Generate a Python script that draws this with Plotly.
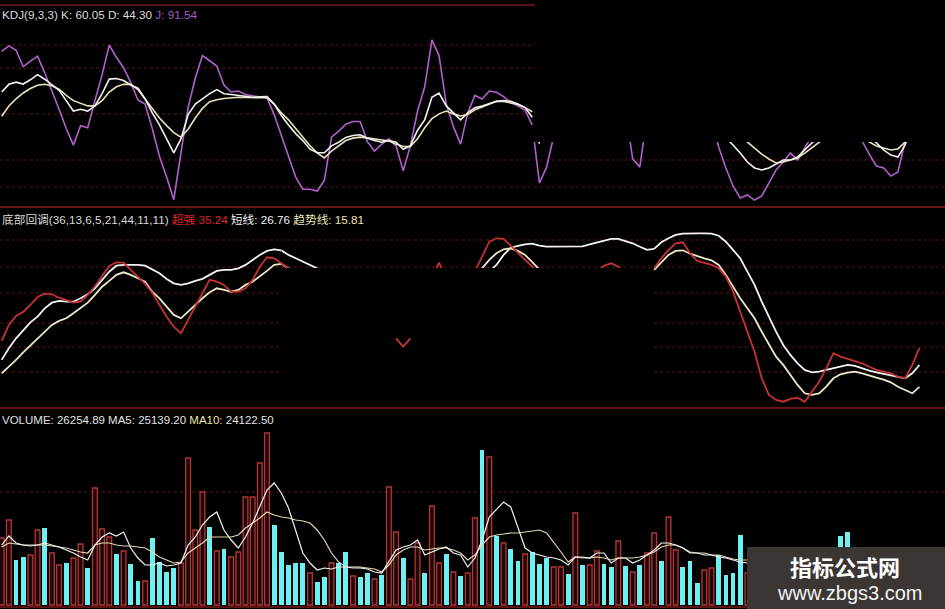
import plotly.graph_objects as go

_ = None
N = 129
IDX = list(range(N))

# ---------------- KDJ(9,3,3) ----------------
KDJ_K = [66.9, 72.3, 73.8, 72.5, 75.5, 79.1, 75.9, 71.8, 68.1, 60.8,
         53.5, 54.7, 53.5, 57.1, 65.7, 76.0, 76.4, 75.0, 71.8, 69.6,
         62.0, 52.2, 43.7, 33.9, 24.1, 33.9, 51.0, 58.4, 62.0, 65.7,
         68.6, 65.7, 65.2, 64.5, 63.7, 63.2, 63.5, 63.7, 58.4, 50.3,
         43.7, 37.6, 32.7, 26.6, 24.1, 24.1, 29.0, 31.5, 34.9, 36.3,
         36.8, 34.4, 32.7, 31.5, 32.7, 31.5, 26.6, 29.0, 40.0, 47.3,
         63.2, 66.2, 57.1, 52.2, 47.3, 52.2, 55.9, 57.1, 58.8, 60.3,
         60.8, 60.3, 58.4, 55.9, 49.1, 30.5, _, _, _, _,
         _, _, _, _, _, _, _, _, _, _,
         _, _, _, _, _, _, _, _, _, _,
         _, 34.5, 29.6, 23.9, 17.6, 13.4, 12.0, 13.4, 16.2, 19.0,
         19.0, 21.1, 26.1, 31.0, 35.9, _, _, _, _, _,
         _, 35.9, 31.0, 26.1, 22.5, 21.1, 29.6, 43.7, 60.05]
KDJ_D = [49.8, 57.1, 62.0, 66.2, 69.4, 71.6, 72.3, 71.3, 68.9, 64.5,
         60.8, 58.8, 57.1, 57.1, 60.8, 66.9, 70.6, 72.3, 72.3, 68.6,
         62.0, 55.4, 48.6, 43.2, 38.3, 35.1, 40.7, 48.6, 55.4, 60.1,
         61.5, 62.3, 62.8, 63.2, 63.0, 62.8, 62.8, 62.8, 58.4, 52.2,
         47.3, 41.2, 35.1, 29.0, 24.1, 20.5, 25.3, 29.0, 32.7, 34.4,
         35.1, 34.6, 33.9, 33.2, 32.4, 30.2, 28.5, 28.5, 33.9, 41.7,
         48.1, 51.5, 53.5, 51.5, 50.0, 51.0, 54.4, 56.4, 58.4, 60.3,
         60.3, 59.3, 58.1, 55.9, 53.0, 41.2, _, _, _, _,
         _, _, _, _, _, _, _, _, _, _,
         _, _, _, _, _, _, _, _, _, _,
         _, _, _, 35.9, 31.7, 27.5, 23.2, 19.7, 16.9, 17.6,
         19.0, 20.4, 23.9, 27.5, 31.0, 35.2, _, _, _, _,
         34.5, 31.7, 28.9, 27.5, 26.1, 26.8, 31.0, 36.6, 44.30]
KDJ_J = [95.5, 99.4, 96.3, 84.8, 88.7, 92.1, 80.4, 68.1, 54.7, 41.2,
         29.5, 43.2, 41.7, 60.8, 79.1, 99.9, 91.4, 84.0, 73.5, 61.3,
         58.4, 41.2, 21.7, 7.0, -8.9, 24.1, 55.9, 76.7, 92.6, 88.9,
         85.2, 71.8, 66.9, 67.6, 65.2, 64.2, 63.2, 62.7, 51.0, 36.3,
         21.7, 7.0, -1.6, -1.6, -2.8, 4.6, 35.1, 39.3, 44.2, 46.1,
         46.1, 31.9, 25.3, 30.2, 33.9, 29.0, 11.4, 29.0, 53.5, 70.6,
         103.6, 92.6, 58.4, 42.5, 30.2, 52.2, 64.5, 62.0, 67.6, 66.7,
         63.7, 59.6, 57.1, 54.0, 43.7, 2.8, 14.0, 36.0, _, _,
         _, _, _, _, _, _, _, 54.0, 20.0, 14.0,
         50.0, _, _, _, _, _, _, _, _, 47.0,
         28.2, 13.4, 0.7, -7.7, -5.6, -9.2, -6.3, 2.8, 12.0, 17.6,
         23.9, 19.0, 27.5, 36.0, _, _, _, _, _, 40.0,
         32.4, 23.2, 14.8, 13.4, 7.7, 10.6, 27.5, 54.0, 91.54]

# ---------------- 底部回调 ----------------
SUPER = [38.8, 46.8, 51.3, 53.3, 56.8, 60.8, 62.4, 62.1, 60.4, 59.3,
         57.9, 58.4, 61.8, 66.1, 70.9, 76.3, 78.1, 77.9, 74.3, 70.9,
         67.3, 62.9, 56.8, 50.9, 45.9, 42.6, 49.3, 55.9, 63.1, 69.3,
         68.4, 66.8, 63.4, 63.4, 65.1, 69.3, 75.9, 80.6, 80.1, 77.6,
         75.1, 70.9, _, _, _, _, _, _, _, _,
         _, _, _, _, _, 40.1, 35.9, 40.1, _, _,
         70.0, 78.0, 70.0, _, _, 70.1, 73.4, 80.9, 88.4, 90.1,
         89.8, 86.4, 82.6, 79.3, 75.9, 71.8, _, _, _, _,
         _, _, _, 73.4, 76.4, 77.6, 75.9, 72.6, _, _,
         70.9, 75.1, 80.1, 84.3, 87.6, 88.1, 82.6, 78.8, 77.8, 76.8,
         75.1, 70.9, 63.4, 53.4, 43.4, 33.4, 20.1, 11.8, 9.3, 8.4,
         9.8, 10.4, 8.4, 13.4, 18.4, 25.1, 32.6, 30.9, 29.8, 28.8,
         27.6, 25.9, 24.3, 23.4, 22.6, 20.9, 20.1, 26.8, 35.24]
SHORT = [29.3, 35.1, 40.1, 44.3, 48.1, 50.9, 55.1, 57.9, 58.8, 58.4,
         58.4, 60.1, 62.1, 65.1, 69.3, 73.4, 76.4, 76.8, 76.8, 76.8,
         76.4, 74.3, 72.6, 69.8, 67.6, 66.8, 67.6, 68.8, 69.8, 71.8,
         73.8, 74.3, 74.3, 75.1, 76.8, 79.3, 81.8, 83.8, 84.6, 84.1,
         81.8, 80.1, 78.4, 76.8, 75.1, 72.6, _, _, _, _,
         _, _, _, _, _, _, _, _, _, _,
         _, _, _, _, _, _, _, 70.1, 73.4, 76.8,
         81.8, 85.4, 86.3, 87.1, 87.4, 86.4, 85.9, 85.9, 85.9, 85.9,
         85.9, 86.1, 87.1, 88.1, 88.8, 89.8, 89.8, 88.8, 87.6, 85.9,
         84.3, 84.8, 88.1, 90.1, 91.8, 92.4, 92.6, 92.6, 92.6, 92.4,
         91.4, 88.4, 84.3, 80.1, 73.4, 66.8, 58.4, 50.9, 43.4, 36.8,
         31.8, 27.6, 24.3, 23.1, 23.4, 24.3, 25.1, 26.1, 26.8, 26.3,
         25.1, 23.9, 23.1, 22.3, 21.4, 20.8, 20.1, 22.6, 26.76]
TREND = [22.6, 25.9, 29.3, 33.1, 36.4, 40.1, 43.4, 46.8, 48.8, 50.1,
         52.6, 55.4, 57.9, 61.8, 65.9, 68.8, 71.8, 73.1, 71.8, 70.1,
         68.4, 63.4, 60.1, 55.9, 51.8, 50.1, 53.4, 57.1, 60.1, 63.1,
         65.1, 64.3, 63.4, 64.3, 66.8, 68.4, 70.9, 73.8, 76.8, 77.3,
         75.1, 71.8, _, _, _, _, _, _, _, _,
         _, _, _, _, _, _, _, _, _, _,
         _, _, _, _, _, _, 70.9, 75.1, 79.3, 82.6,
         84.6, 85.1, 83.8, 81.8, 78.4, 74.8, 70.9, _, _, _,
         _, _, _, _, _, _, _, _, _, _,
         70.9, 74.3, 78.1, 81.8, 83.8, 84.1, 82.4, 81.1, 80.1, 79.1,
         76.8, 71.8, 65.9, 60.1, 55.1, 50.1, 43.4, 36.8, 30.9, 26.8,
         21.8, 16.8, 12.6, 11.8, 12.6, 15.9, 20.1, 22.1, 22.9, 23.4,
         22.6, 21.4, 20.4, 19.4, 18.1, 15.9, 14.3, 12.6, 15.81]
MID_LOW_FRAGMENT = [55, 56, 57]

# ---------------- VOLUME ----------------
VOLUME = [67, 85, 45, 48, 50, 75, 77, 52, 40, 42,
          47, 61, 37, 117, 76, 68, 51, 54, 41, 24,
          24, 67, 43, 33, 37, 42, 147, 75, 113, 78,
          54, 56, 48, 53, 108, 108, 142, 172, 80, 53,
          40, 42, 42, 32, 23, 28, 42, 42, 53, 29,
          28, 32, 26, 30, 118, 73, 47, 26, 62, 32,
          99, 42, 51, 33, 29, 32, 87, 155, 148, 69,
          62, 56, 44, 51, 53, 41, 47, 38, 38, 31,
          92, 40, 40, 54, 41, 38, 64, 39, 33, 40,
          52, 72, 44, 88, 55, 38, 44, 22, 35, 37,
          50, 30, 32, 70, 32, _, _, _, _, _,
          _, _, _, _, _, _, _, 69, 73, _,
          _, _, _, _, _, _, _, _, _]
BAR_KIND = ("RRCCRRCRRC" "RRCRRRCRCC" "RCCCCRRRRC" "RCRRRRRRCC" "CCCRCCRCCR"
            "CCRCRRCRRC" "RRCRCRRCRC" "RCCRCCCRRC" "RCRRCCRCRC" "RRCRRCCCRR"
            "CCCCR-----" "-------CC-" "---------")
MA5 = [60, 69, 62, 60, 59, 60, 62, 60, 58, 55,
       52, 48, 45, 60, 68, 72, 69, 73, 57, 47,
       40, 40, 42, 39, 40, 42, 60, 68, 80, 88,
       93, 75, 65, 57, 68, 82, 98, 115, 122, 112,
       97, 75, 52, 42, 35, 37, 36, 38, 38, 37,
       37, 36, 33, 32, 43, 55, 58, 60, 65, 50,
       53, 56, 58, 52, 50, 38, 47, 65, 88, 95,
       103, 98, 78, 57, 52, 50, 48, 47, 45, 40,
       48, 48, 47, 52, 52, 42, 47, 47, 42, 45,
       50, 55, 62, 62, 60, 57, 52, 52, 50, 50,
       48, 47, 45, 43, 42] + [_] * 24
MA10 = [58, 62, 61, 60, 60, 60, 60, 59, 58, 57,
        55, 53, 52, 60, 62, 62, 60, 59, 59, 58,
        57, 53, 48, 45, 42, 43, 52, 57, 62, 68,
        68, 68, 68, 70, 77, 82, 87, 93, 90, 88,
        87, 85, 84, 82, 75, 65, 52, 43, 38, 38,
        38, 37, 36, 33, 40, 50, 55, 58, 58, 55,
        56, 57, 57, 55, 52, 45, 50, 60, 68, 70,
        71, 72, 72, 73, 74, 75, 72, 63, 53, 43,
        48, 47, 47, 48, 47, 45, 47, 47, 47, 48,
        50, 53, 58, 60, 60, 57, 53, 52, 52, 50,
        50, 48, 46, 45, 45] + [_] * 24

# ---------------- geometry (pixels) ----------------
W, H = 945, 609
X0, DX = 1.7, 7.17              # pixel of bar 0, pixels per bar
KDJ_TOP, KDJ_BOT = 5, 207
MID_TOP, MID_BOT = 207, 408
VOL_TOP, VOL_BOT = 408, 609
KDJ_CUT_BAR, KDJ_CUT_Y = 74, 142       # right of this bar only y>142 is visible
MID_CUT_L, MID_CUT_R, MID_CUT_Y = 39, 91, 268


def px_of_bar(i):
    return X0 + DX * i


def bar_of_px(p):
    return (p - X0) / DX


def pdom(ytop, ybot):
    return [1 - ybot / H, 1 - ytop / H]


def kdj_v(y):   # pixel -> KDJ value
    return (187 - y) / 1.42


def mid_v(y):   # pixel -> indicator value
    return (418.5 - y) / 2.0


def vol_v(y):
    return 605 - y


def keep(arr, cond):
    return [v if cond(i) else None for i, v in enumerate(arr)]


fig = go.Figure()

# KDJ -- full panel (left part) and clipped strip (right part)
kdj_cols = {"J": "#b35fcc", "K": "#f2f2f2", "D": "#e9e1b8"}
for name, arr in (("J", KDJ_J), ("D", KDJ_D), ("K", KDJ_K)):
    fig.add_trace(go.Scatter(x=IDX, y=keep(arr, lambda i: i <= KDJ_CUT_BAR), mode="lines",
                             line=dict(color=kdj_cols[name], width=1.6), xaxis="x", yaxis="y",
                             connectgaps=False, hoverinfo="skip"))
    fig.add_trace(go.Scatter(x=IDX, y=keep(arr, lambda i: i >= KDJ_CUT_BAR), mode="lines",
                             line=dict(color=kdj_cols[name], width=1.6), xaxis="x2", yaxis="y4",
                             connectgaps=False, hoverinfo="skip"))

# 底部回调 -- full panel and clipped strip
mid_cols = {"SUPER": "#c83232", "SHORT": "#f4f4f4", "TREND": "#efe9c8"}
for name, arr in (("SHORT", SHORT), ("TREND", TREND), ("SUPER", SUPER)):
    w = 1.8
    fig.add_trace(go.Scatter(
        x=IDX, y=keep(arr, lambda i: i <= MID_CUT_L or i >= MID_CUT_R or i in MID_LOW_FRAGMENT),
        mode="lines", line=dict(color=mid_cols[name], width=w), xaxis="x", yaxis="y2",
        connectgaps=False, hoverinfo="skip"))
    fig.add_trace(go.Scatter(
        x=IDX, y=keep(arr, lambda i: MID_CUT_L <= i <= MID_CUT_R),
        mode="lines", line=dict(color=mid_cols[name], width=w), xaxis="x3", yaxis="y5",
        connectgaps=False, hoverinfo="skip"))

# Volume bars
red_x = [i for i in IDX if BAR_KIND[i] == "R" and VOLUME[i] is not None]
cyan_x = [i for i in IDX if BAR_KIND[i] == "C" and VOLUME[i] is not None]
fig.add_trace(go.Bar(x=red_x, y=[VOLUME[i] for i in red_x], width=0.66,
                     marker=dict(color="#1e0606", line=dict(color="#b23636", width=1.3)),
                     xaxis="x", yaxis="y3", hoverinfo="skip"))
fig.add_trace(go.Bar(x=cyan_x, y=[VOLUME[i] for i in cyan_x], width=0.66,
                     marker=dict(color="#6cf0f2", line=dict(width=0)),
                     xaxis="x", yaxis="y3", hoverinfo="skip"))
fig.add_trace(go.Scatter(x=IDX, y=MA10, mode="lines", line=dict(color="#e6d6b0", width=1.2),
                         xaxis="x", yaxis="y3", hoverinfo="skip"))
fig.add_trace(go.Scatter(x=IDX, y=MA5, mode="lines", line=dict(color="#f2f2f2", width=1.2),
                         xaxis="x", yaxis="y3", hoverinfo="skip"))

# ---------------- axes ----------------
ax = dict(visible=False, showgrid=False, zeroline=False, fixedrange=True)
full_xr = [bar_of_px(0), bar_of_px(W)]
fig.update_layout(
    xaxis=dict(ax, domain=[0, 1], range=full_xr, anchor="y3"),
    yaxis=dict(ax, domain=pdom(KDJ_TOP, KDJ_BOT), range=[kdj_v(KDJ_BOT), kdj_v(KDJ_TOP)], anchor="x"),
    yaxis2=dict(ax, domain=pdom(MID_TOP, MID_BOT), range=[mid_v(MID_BOT), mid_v(MID_TOP)], anchor="x"),
    yaxis3=dict(ax, domain=pdom(VOL_TOP, VOL_BOT), range=[vol_v(VOL_BOT), vol_v(VOL_TOP)], anchor="x"),
    xaxis2=dict(ax, domain=[px_of_bar(KDJ_CUT_BAR) / W, 1],
                range=[KDJ_CUT_BAR, bar_of_px(W)], anchor="y4"),
    yaxis4=dict(ax, domain=pdom(KDJ_CUT_Y, KDJ_BOT), range=[kdj_v(KDJ_BOT), kdj_v(KDJ_CUT_Y)], anchor="x2"),
    xaxis3=dict(ax, domain=[px_of_bar(MID_CUT_L) / W, px_of_bar(MID_CUT_R) / W],
                range=[MID_CUT_L, MID_CUT_R], anchor="y5"),
    yaxis5=dict(ax, domain=pdom(MID_TOP, MID_CUT_Y), range=[mid_v(MID_CUT_Y), mid_v(MID_TOP)], anchor="x3"),
)

# ---------------- grid & frame lines ----------------
shapes = []


def hline(y, x0=0, x1=W, color="#7c1c1c", width=1.4, dash="solid", layer="below"):
    shapes.append(dict(type="line", xref="paper", yref="paper", x0=x0 / W, x1=x1 / W,
                       y0=1 - y / H, y1=1 - y / H, layer=layer,
                       line=dict(color=color, width=width, dash=dash)))


GRID = "#5e1616"
for y in (45, 68, 114):
    hline(y, 0, 535, GRID, 1, "dot")
for y in (160, 187):
    hline(y, 0, W, GRID, 1, "dot")
for y in (240, 267):
    hline(y, 0, W, GRID, 1, "dot")
for y in (293, 323, 347, 372):
    hline(y, 0, px_of_bar(MID_CUT_L), GRID, 1, "dot")
    hline(y, px_of_bar(MID_CUT_R), W, GRID, 1, "dot")
hline(492, 0, W, GRID, 1, "dot")

hline(5, 0, 535, "#741a22", 1.6)
hline(207, 0, W, "#8a1e1e", 1.6)
hline(408, 0, W, "#8a1e1e", 1.6)
hline(607, 0, W, "#7a1a1a", 1.6)

# watermark box
shapes.append(dict(type="rect", xref="paper", yref="paper", x0=747 / W, x1=1,
                   y0=0, y1=1 - 547 / H, layer="above", fillcolor="#3b3634",
                   line=dict(width=0)))

# ---------------- texts ----------------
FONT = "Liberation Sans, Arial, sans-serif"
CJK = "Noto Sans CJK SC"
anns = [
    dict(x=0, y=1 - 15 / H, xref="paper", yref="paper", xanchor="left", yanchor="middle",
         showarrow=False, font=dict(family=FONT, size=11.7, color="#dcdcdc"),
         text="KDJ(9,3,3) K: 60.05 D: 44.30 <span style='color:#a857c4'>J: 91.54</span>"),
    dict(x=0, y=1 - 219 / H, xref="paper", yref="paper", xanchor="left", yanchor="middle",
         showarrow=False, font=dict(family=FONT + ", " + CJK, size=11.7, color="#d8d8d8"),
         text="底部回调(36,13,6,5,21,44,11,11) <span style='color:#e02424'>超强 35.24</span> "
              "<span style='color:#f2f2f2'>短线: 26.76</span> "
              "<span style='color:#eee6b4'>趋势线: 15.81</span>"),
    dict(x=0, y=1 - 420 / H, xref="paper", yref="paper", xanchor="left", yanchor="middle",
         showarrow=False, font=dict(family=FONT, size=11.5, color="#e2e2e2"),
         text="VOLUME: 26254.89 MA5: 25139.20 <span style='color:#e4e4a8'>MA10:</span> 24122.50"),
    dict(x=845 / W, y=1 - 566 / H, xref="paper", yref="paper", xanchor="center", yanchor="middle",
         showarrow=False, font=dict(family=CJK, size=22, color="#ffffff", weight="bold"),
         text="<b>指标公式网</b>"),
    dict(x=850 / W, y=1 - 593 / H, xref="paper", yref="paper", xanchor="center", yanchor="middle",
         showarrow=False, font=dict(family="Liberation Sans, Arial, sans-serif", size=20, color="#f2f2f2"),
         text="www.zbgs3.com"),
]

fig.update_layout(
    width=W, height=H, margin=dict(l=0, r=0, t=0, b=0),
    paper_bgcolor="#000000", plot_bgcolor="rgba(0,0,0,0)",
    showlegend=False, barmode="overlay", bargap=0,
    shapes=shapes, annotations=anns,
)

fig.write_html("out.html", config={"displayModeBar": False, "staticPlot": True},
               post_script="document.body.style.margin='0';document.body.style.background='#000';")
